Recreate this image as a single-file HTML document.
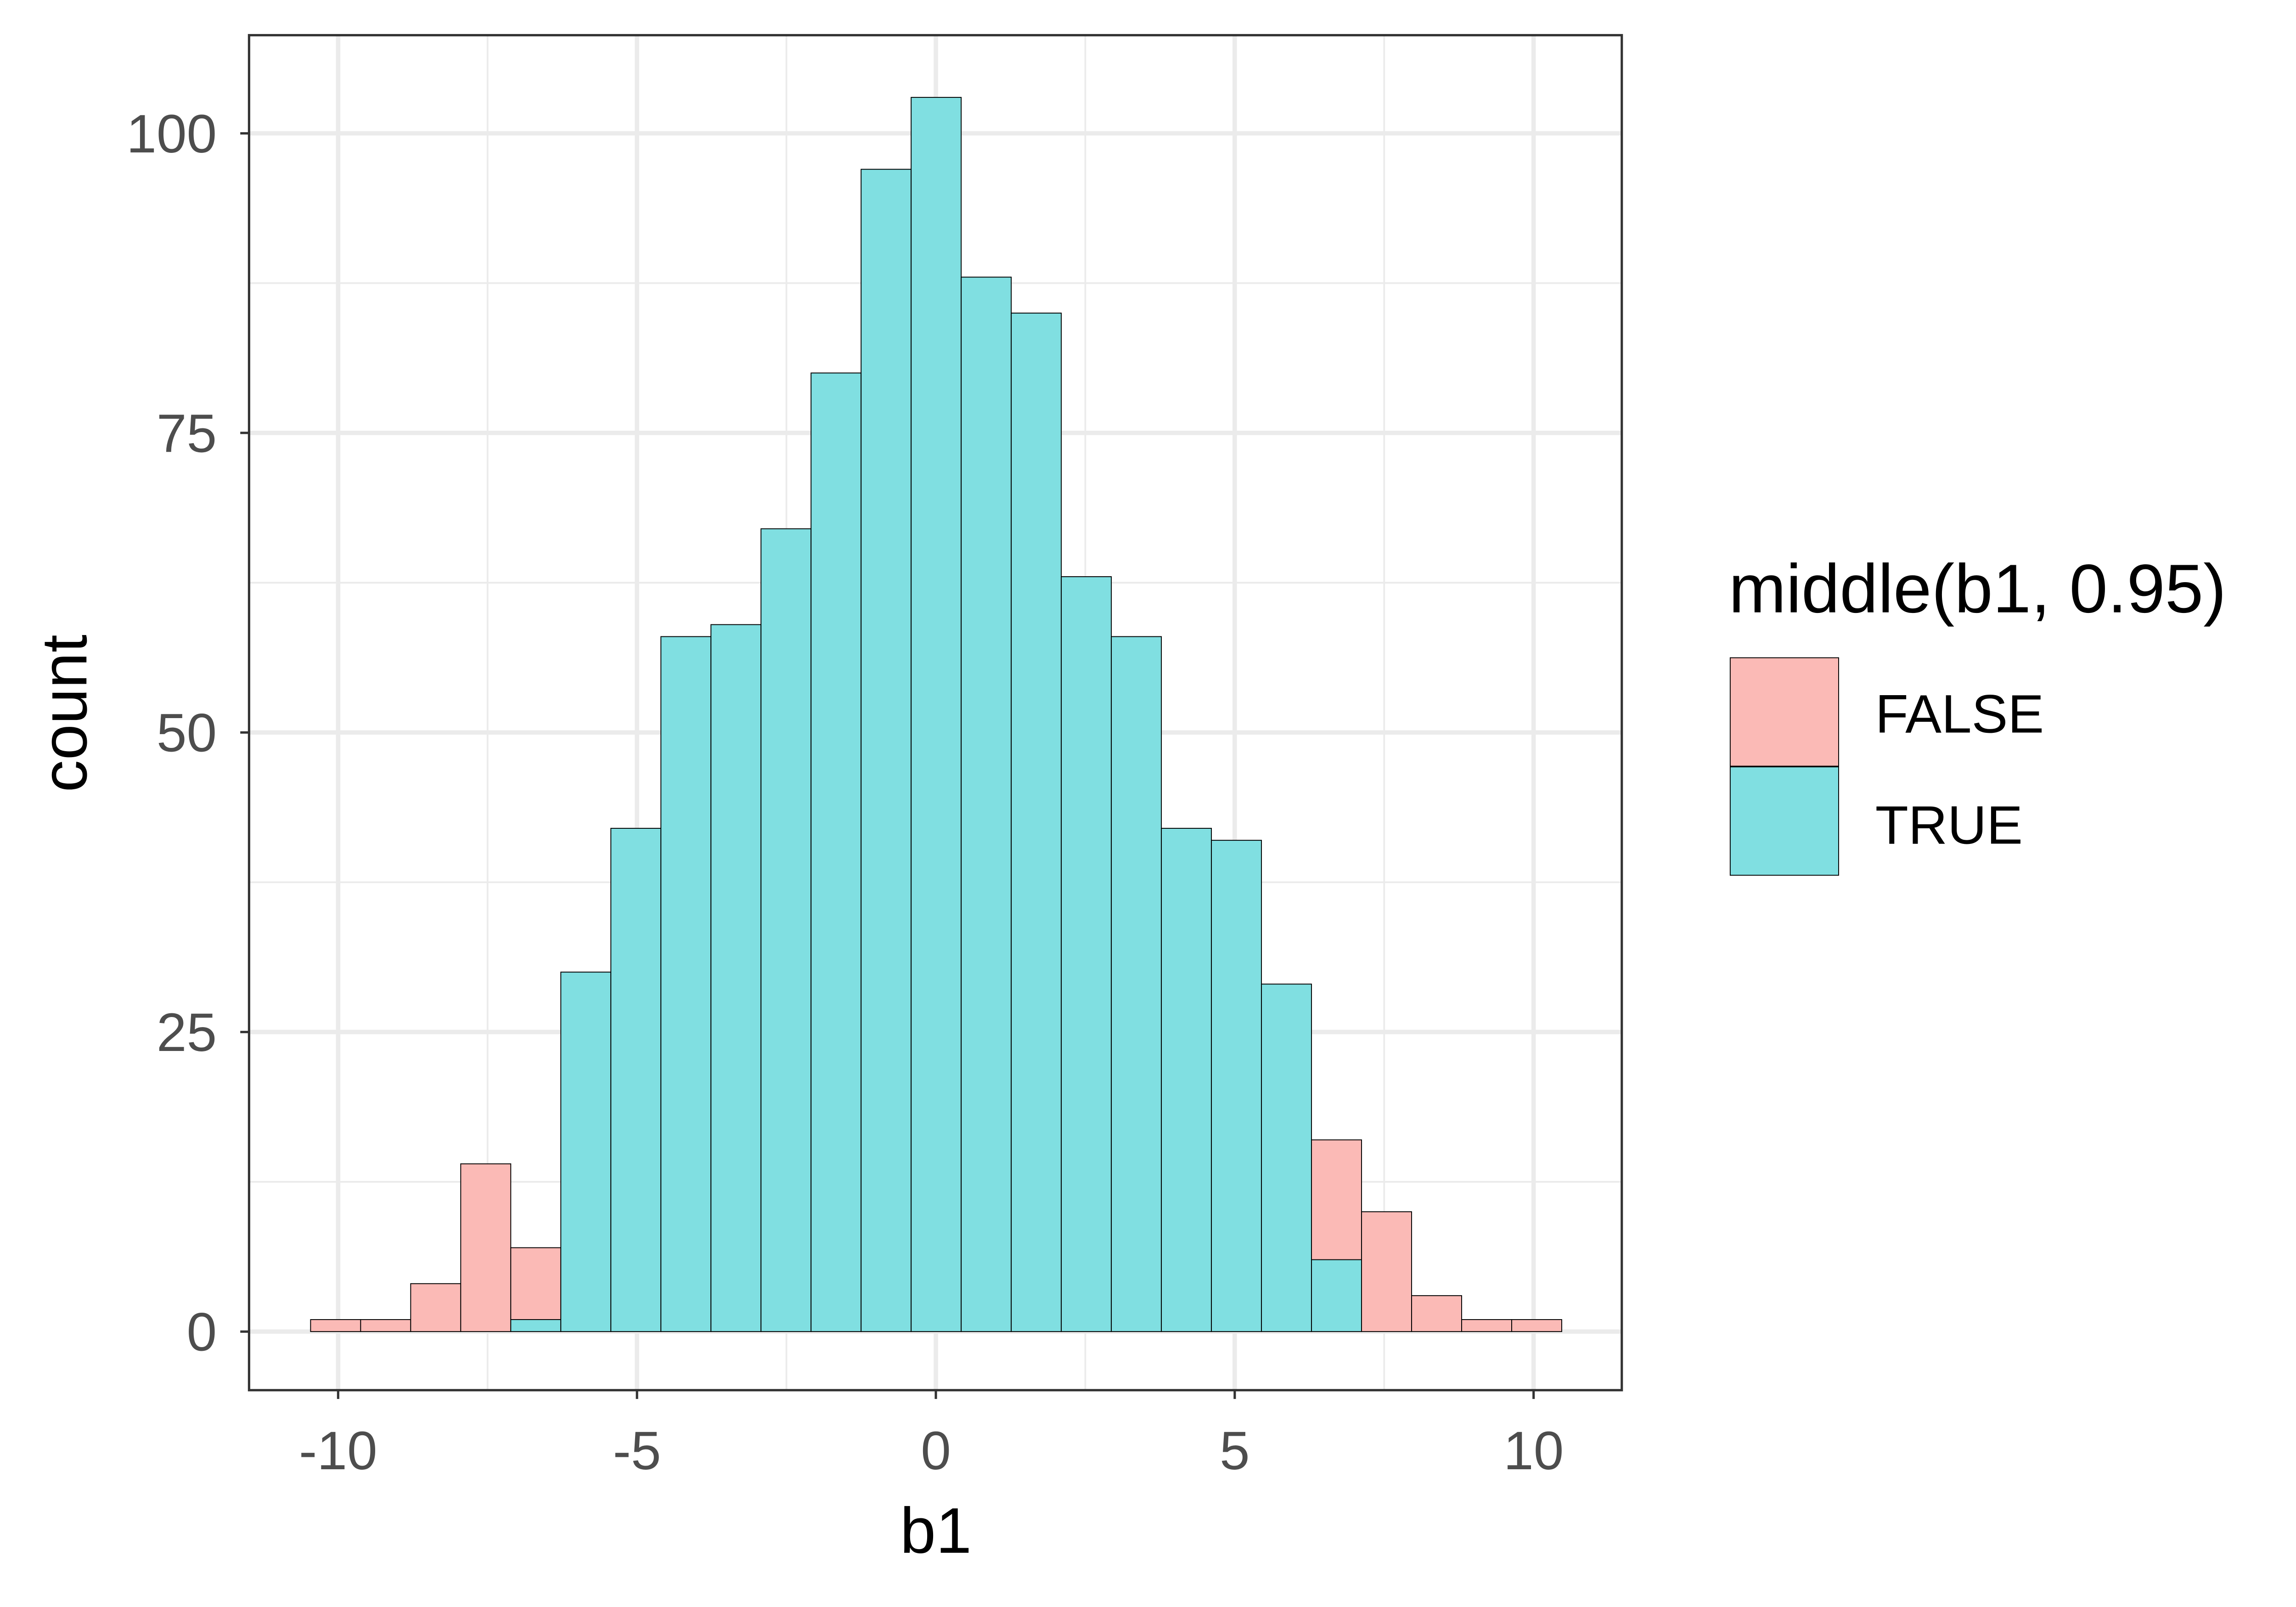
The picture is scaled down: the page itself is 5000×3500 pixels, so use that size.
<!DOCTYPE html>
<html><head><style>html,body{margin:0;padding:0;background:#fff}svg{display:block}</style></head>
<body>
<svg xmlns="http://www.w3.org/2000/svg" width="5000" height="3500" viewBox="0 0 1567.2 1097" font-family="Liberation Sans, sans-serif">
<rect width="1567.2" height="1097" fill="#fff"/>
<g stroke="#EBEBEB">
<g stroke-width="1.2">
<line x1="170" x2="1107" y1="806.75" y2="806.75"/><line x1="170" x2="1107" y1="602.25" y2="602.25"/><line x1="170" x2="1107" y1="397.75" y2="397.75"/><line x1="170" x2="1107" y1="193.25" y2="193.25"/>
<line y1="24" y2="949" x1="332.8" x2="332.8"/><line y1="24" y2="949" x1="536.8" x2="536.8"/><line y1="24" y2="949" x1="740.8" x2="740.8"/><line y1="24" y2="949" x1="944.8" x2="944.8"/>
</g>
<g stroke-width="3">
<line x1="170" x2="1107" y1="909" y2="909"/><line x1="170" x2="1107" y1="704.5" y2="704.5"/><line x1="170" x2="1107" y1="500" y2="500"/><line x1="170" x2="1107" y1="295.5" y2="295.5"/><line x1="170" x2="1107" y1="91" y2="91"/>
<line y1="24" y2="949" x1="230.8" x2="230.8"/><line y1="24" y2="949" x1="434.8" x2="434.8"/><line y1="24" y2="949" x1="638.8" x2="638.8"/><line y1="24" y2="949" x1="842.8" x2="842.8"/><line y1="24" y2="949" x1="1046.8" x2="1046.8"/>
</g>
</g>
<g id="bars" stroke="#000" stroke-width="0.6"></g>
<rect x="170" y="24" width="937" height="925" fill="none" stroke="#333" stroke-width="1.6"/>
<g stroke="#333" stroke-width="1.6">
<line x1="164" x2="170" y1="909" y2="909"/><line x1="164" x2="170" y1="704.5" y2="704.5"/><line x1="164" x2="170" y1="500" y2="500"/><line x1="164" x2="170" y1="295.5" y2="295.5"/><line x1="164" x2="170" y1="91" y2="91"/>
<line y1="949" y2="955" x1="230.8" x2="230.8"/><line y1="949" y2="955" x1="434.8" x2="434.8"/><line y1="949" y2="955" x1="638.8" x2="638.8"/><line y1="949" y2="955" x1="842.8" x2="842.8"/><line y1="949" y2="955" x1="1046.8" x2="1046.8"/>
</g>
<g fill="#4D4D4D" font-size="37" text-anchor="end">
<text x="148" y="922">0</text><text x="148" y="717.5">25</text><text x="148" y="513">50</text><text x="148" y="308.5">75</text><text x="148" y="104">100</text>
</g>
<g fill="#4D4D4D" font-size="37" text-anchor="middle">
<text x="230.8" y="1003">-10</text><text x="434.8" y="1003">-5</text><text x="638.8" y="1003">0</text><text x="842.8" y="1003">5</text><text x="1046.8" y="1003">10</text>
</g>
<text x="638.8" y="1060" font-size="44" text-anchor="middle">b1</text>
<text transform="translate(59,487) rotate(-90)" font-size="44" text-anchor="middle">count</text>
<text x="1180" y="418" font-size="47">middle(b1, 0.95)</text>
<rect x="1181" y="449" width="74" height="74" fill="#FBBAB6" stroke="#000" stroke-width="0.6"/>
<rect x="1181" y="523.5" width="74" height="74" fill="#80DFE1" stroke="#000" stroke-width="0.6"/>
<text x="1280" y="500" font-size="37">FALSE</text>
<text x="1280" y="576" font-size="37">TRUE</text>
<script>
var T=[0,0,0,0,1,30,42,58,59,67,80,97,103,88,85,63,58,42,41,29,6,0,0,0,0];
var F=[1,1,4,14,6,0,0,0,0,0,0,0,0,0,0,0,0,0,0,0,10,10,3,1,1];
var g=document.getElementById('bars'),ns='http://www.w3.org/2000/svg',w=34.16,x0=212,k=8.18,y0=909;
for(var i=0;i<25;i++){var x=x0+i*w;
 if(T[i]>0){var r=document.createElementNS(ns,'rect');r.setAttribute('x',x);r.setAttribute('width',w);r.setAttribute('y',y0-T[i]*k);r.setAttribute('height',T[i]*k);r.setAttribute('fill','#80DFE1');g.appendChild(r);}
 if(F[i]>0){var r=document.createElementNS(ns,'rect');r.setAttribute('x',x);r.setAttribute('width',w);r.setAttribute('y',y0-(T[i]+F[i])*k);r.setAttribute('height',F[i]*k);r.setAttribute('fill','#FBBAB6');g.appendChild(r);}
}
</script>
</svg>
</body></html>
